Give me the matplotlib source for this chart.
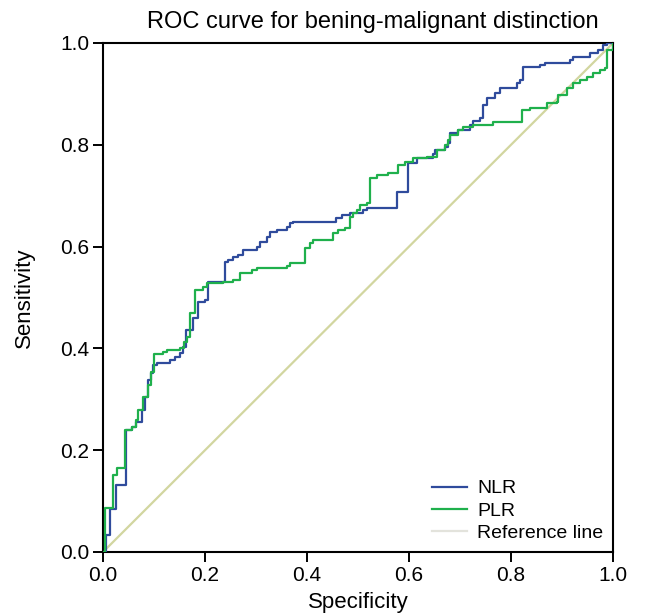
import matplotlib.pyplot as plt

plt.rcParams['font.family'] = ['Liberation Sans', 'DejaVu Sans']

# NLR ROC steps (specificity-axis value, sensitivity), drawn as post steps
nlrX = [0, 0.006, 0.014, 0.025, 0.045, 0.057, 0.065, 0.076, 0.082, 0.088, 0.094, 0.098,
        0.106, 0.131, 0.141, 0.151, 0.157, 0.163, 0.176, 0.186, 0.2, 0.206, 0.239, 0.245,
        0.255, 0.265, 0.275, 0.302, 0.308, 0.322, 0.327, 0.341, 0.361, 0.367, 0.373, 0.457,
        0.469, 0.484, 0.51, 0.518, 0.576, 0.598, 0.616, 0.647, 0.651, 0.671, 0.676, 0.68,
        0.696, 0.72, 0.725, 0.739, 0.745, 0.753, 0.769, 0.778, 0.812, 0.818, 0.824, 0.857,
        0.867, 0.916, 0.922, 0.955, 0.971, 0.98, 0.988, 1.0]
nlrY = [0, 0.033, 0.084, 0.132, 0.24, 0.246, 0.255, 0.279, 0.305, 0.338, 0.352, 0.367,
        0.371, 0.377, 0.383, 0.391, 0.403, 0.436, 0.46, 0.491, 0.495, 0.53, 0.57, 0.574,
        0.58, 0.583, 0.593, 0.599, 0.609, 0.619, 0.629, 0.633, 0.639, 0.646, 0.648, 0.656,
        0.662, 0.666, 0.672, 0.676, 0.707, 0.764, 0.774, 0.782, 0.79, 0.796, 0.804, 0.823,
        0.829, 0.839, 0.847, 0.853, 0.878, 0.892, 0.902, 0.912, 0.921, 0.927, 0.953, 0.957,
        0.961, 0.967, 0.972, 0.98, 0.986, 0.996, 1.0, 1.0]

# PLR ROC steps
plrX = [0, 0.004, 0.02, 0.027, 0.043, 0.057, 0.065, 0.069, 0.078, 0.088, 0.094, 0.1,
        0.118, 0.125, 0.151, 0.159, 0.165, 0.171, 0.18, 0.196, 0.204, 0.235, 0.255, 0.269,
        0.292, 0.302, 0.361, 0.367, 0.396, 0.406, 0.411, 0.451, 0.461, 0.475, 0.484, 0.49,
        0.498, 0.504, 0.518, 0.524, 0.537, 0.559, 0.578, 0.592, 0.608, 0.635, 0.655, 0.671,
        0.676, 0.68, 0.696, 0.706, 0.725, 0.765, 0.822, 0.837, 0.871, 0.89, 0.892, 0.91,
        0.922, 0.935, 0.949, 0.961, 0.975, 0.984, 0.988, 1.0, 1.0]
plrY = [0, 0.086, 0.151, 0.165, 0.24, 0.246, 0.259, 0.279, 0.305, 0.328, 0.354, 0.389,
        0.393, 0.397, 0.401, 0.413, 0.422, 0.47, 0.515, 0.521, 0.528, 0.53, 0.534, 0.548,
        0.554, 0.558, 0.562, 0.568, 0.597, 0.607, 0.613, 0.627, 0.633, 0.637, 0.658, 0.666,
        0.672, 0.682, 0.686, 0.735, 0.741, 0.745, 0.76, 0.766, 0.774, 0.776, 0.79, 0.8,
        0.809, 0.819, 0.829, 0.835, 0.839, 0.845, 0.868, 0.872, 0.882, 0.884, 0.898, 0.912,
        0.921, 0.927, 0.933, 0.941, 0.947, 0.951, 0.986, 0.986, 1.0]

refX = [0, 1]
refY = [0, 1]

ticks = [0.0, 0.2, 0.4, 0.6, 0.8, 1.0]

fig = plt.figure(figsize=(6.45, 6.16), dpi=100)
ax = fig.add_axes([0.1597, 0.1039, 0.7907, 0.8263])

ax.step(nlrX, nlrY, where='post', color='#2f4b9c', lw=1.6, label='NLR', zorder=3)
ax.step(plrX, plrY, where='post', color='#1fb04c', lw=1.6, label='PLR', zorder=4)
ax.plot(refX, refY, color='#d2d6a0', lw=1.6, label='Reference line', zorder=2)

ax.set_xlim(0, 1)
ax.set_ylim(0, 1)
ax.set_xticks(ticks)
ax.set_yticks(ticks)
ax.set_xticklabels(['%.1f' % t for t in ticks])
ax.set_yticklabels(['%.1f' % t for t in ticks])
ax.tick_params(direction='out', length=7, width=1.4, labelsize=15, pad=3)
for s in ax.spines.values():
    s.set_linewidth(1.5)

ax.set_title('ROC curve for bening-malignant distinction', fontsize=17, pad=11, x=0.53)
ax.set_xlabel('Specificity', fontsize=16, labelpad=5)
ax.set_ylabel('Sensitivity', fontsize=16, labelpad=18)

leg = ax.legend(loc='lower right', frameon=False, fontsize=14, handlelength=1.8,
                handletextpad=0.5, labelspacing=0.25, borderaxespad=0.1)
leg.get_lines()[2].set_color('#e3e3dc')

fig.savefig('out.png', dpi=100)
